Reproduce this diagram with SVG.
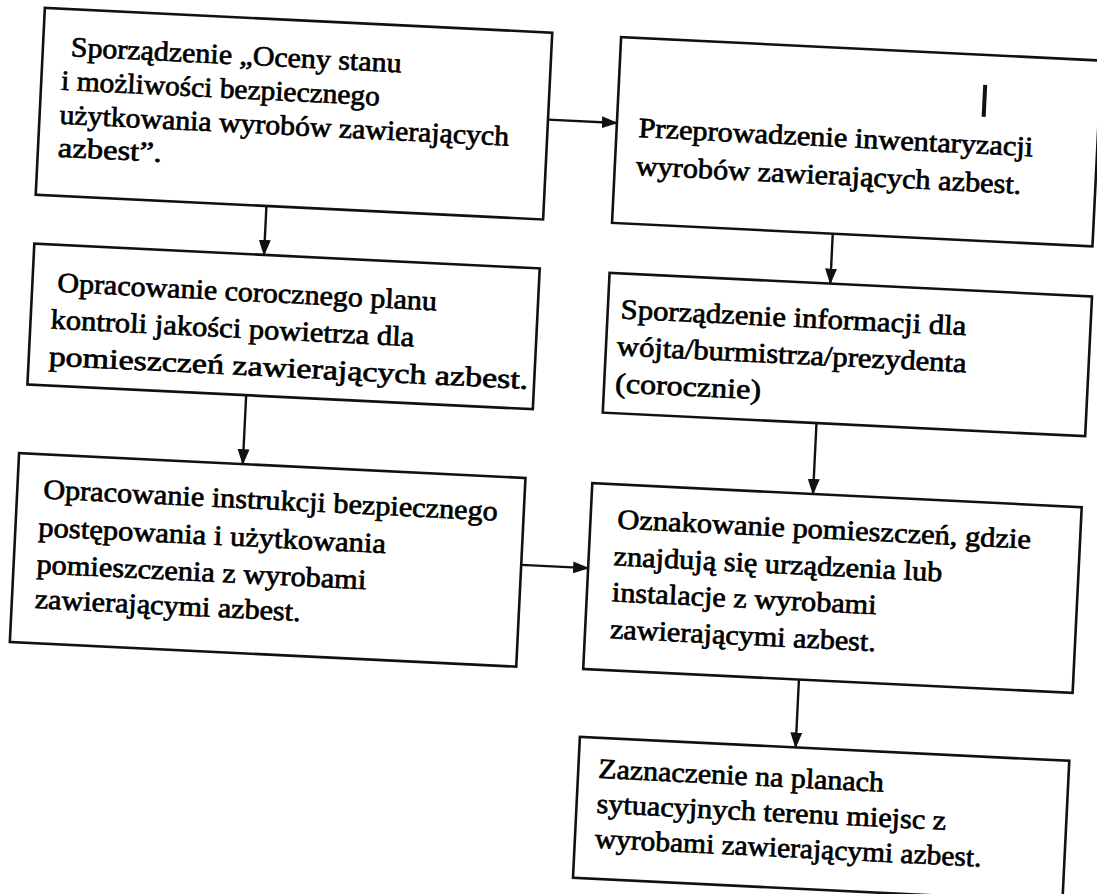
<svg xmlns="http://www.w3.org/2000/svg" width="1097" height="894" viewBox="0 0 1097 894">
<defs>
<style>
.box{fill:#fff;stroke:#111;stroke-width:2.6}
text.t{font-family:'Liberation Serif','DejaVu Serif',serif;font-size:28px;fill:#000;stroke:#000;stroke-width:0.7}
.c{fill:none;stroke:#111;stroke-width:2.4}
</style>
<marker id="ah" markerWidth="16" markerHeight="12" refX="15" refY="6" orient="auto" markerUnits="userSpaceOnUse">
<path d="M0,0 L16,6 L0,12 Z" fill="#111"/>
</marker>
</defs>
<rect x="0" y="0" width="1097" height="894" fill="#fff"/>
<g transform="rotate(2.8 548 447)" font-family="Liberation Serif, DejaVu Serif, serif">
<g id="connectors">
<line class="c" x1="532" y1="120" x2="601" y2="120" marker-end="url(#ah)"/>
<line class="c" x1="255" y1="220" x2="255" y2="269" marker-end="url(#ah)"/>
<line class="c" x1="244" y1="410" x2="244" y2="479" marker-end="url(#ah)"/>
<line class="c" x1="822" y1="220" x2="822" y2="270" marker-end="url(#ah)"/>
<line class="c" x1="815" y1="410" x2="815" y2="481" marker-end="url(#ah)"/>
<line class="c" x1="527" y1="566" x2="594" y2="566" marker-end="url(#ah)"/>
<line class="c" x1="810" y1="667" x2="810" y2="735" marker-end="url(#ah)"/>
</g>
<g id="n1">
<rect class="box" x="24" y="33" width="508" height="187"/>
<text class="t" x="52" y="80" textLength="331" lengthAdjust="spacingAndGlyphs">Sporządzenie „Oceny stanu</text>
<text class="t" x="44" y="114" textLength="319" lengthAdjust="spacingAndGlyphs">i możliwości  bezpiecznego</text>
<text class="t" x="44" y="148" textLength="450" lengthAdjust="spacingAndGlyphs">użytkowania wyrobów zawierających</text>
<text class="t" x="44" y="181" textLength="104" lengthAdjust="spacingAndGlyphs">azbest”.</text>
</g>
<g id="n2">
<rect class="box" x="601" y="34" width="481" height="186"/>
<line x1="967" y1="64" x2="967" y2="96" stroke="#111" stroke-width="4"/>
<text class="t" x="623" y="133" textLength="395" lengthAdjust="spacingAndGlyphs">Przeprowadzenie inwentaryzacji</text>
<text class="t" x="622" y="171" textLength="386" lengthAdjust="spacingAndGlyphs">wyrobów zawierających  azbest.</text>
</g>
<g id="n3">
<rect class="box" x="25" y="269" width="506" height="141"/>
<text class="t" x="50" y="316" textLength="380" lengthAdjust="spacingAndGlyphs">Opracowanie corocznego planu</text>
<text class="t" x="45" y="353" textLength="364" lengthAdjust="spacingAndGlyphs">kontroli jakości powietrza dla</text>
<text class="t" x="45" y="390" textLength="480" lengthAdjust="spacingAndGlyphs">pomieszczeń zawierających azbest.</text>
</g>
<g id="n4">
<rect class="box" x="601" y="270" width="483" height="140"/>
<text class="t" x="614" y="315" textLength="346" lengthAdjust="spacingAndGlyphs">Sporządzenie informacji  dla</text>
<text class="t" x="612" y="352" textLength="350" lengthAdjust="spacingAndGlyphs">wójta/burmistrza/prezydenta</text>
<text class="t" x="612" y="389" textLength="146" lengthAdjust="spacingAndGlyphs">(corocznie)</text>
</g>
<g id="n5">
<rect class="box" x="20" y="479" width="507" height="189"/>
<text class="t" x="46" y="523" textLength="455" lengthAdjust="spacingAndGlyphs">Opracowanie instrukcji  bezpiecznego</text>
<text class="t" x="43" y="561" textLength="348" lengthAdjust="spacingAndGlyphs">postępowania i użytkowania</text>
<text class="t" x="43" y="598" textLength="330" lengthAdjust="spacingAndGlyphs">pomieszczenia  z wyrobami</text>
<text class="t" x="43" y="633" textLength="266" lengthAdjust="spacingAndGlyphs">zawierającymi  azbest.</text>
</g>
<g id="n6">
<rect class="box" x="594" y="481" width="490" height="186"/>
<text class="t" x="621" y="525" textLength="414" lengthAdjust="spacingAndGlyphs">Oznakowanie pomieszczeń,  gdzie</text>
<text class="t" x="619" y="562" textLength="329" lengthAdjust="spacingAndGlyphs">znajdują się urządzenia lub</text>
<text class="t" x="619" y="598" textLength="265" lengthAdjust="spacingAndGlyphs">instalacje z wyrobami</text>
<text class="t" x="619" y="635" textLength="266" lengthAdjust="spacingAndGlyphs">zawierającymi  azbest.</text>
</g>
<g id="n7">
<rect class="box" x="594" y="735" width="490" height="141"/>
<text class="t" x="614" y="775" textLength="286" lengthAdjust="spacingAndGlyphs">Zaznaczenie na planach</text>
<text class="t" x="614" y="810" textLength="350" lengthAdjust="spacingAndGlyphs">sytuacyjnych terenu miejsc  z</text>
<text class="t" x="614" y="845" textLength="387" lengthAdjust="spacingAndGlyphs">wyrobami zawierającymi  azbest.</text>
</g>
</g>
</svg>
